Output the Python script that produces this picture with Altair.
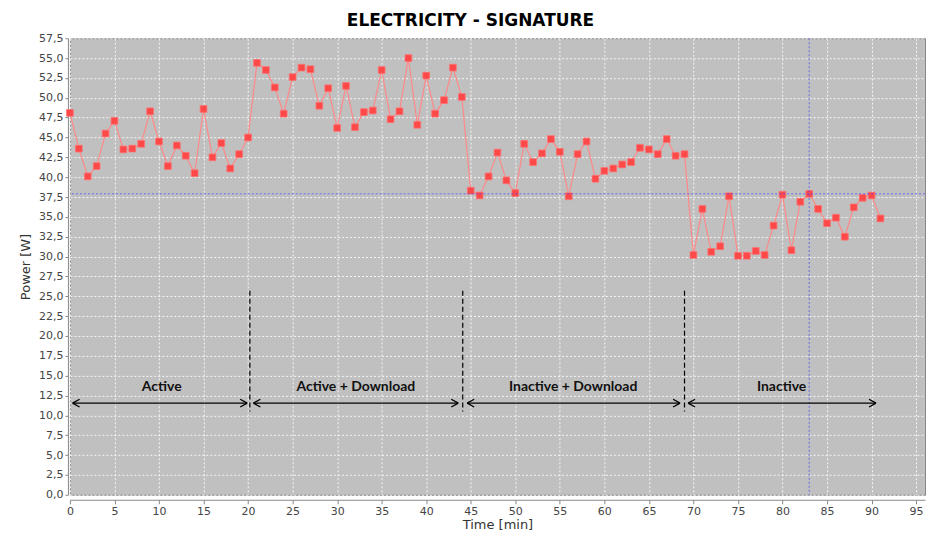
import altair as alt
import pandas as pd

minutes = list(range(92))
power = [48.1, 43.6, 40.1, 41.4, 45.5, 47.1, 43.5, 43.6, 44.2, 48.3,
         44.5, 41.4, 44.0, 42.7, 40.5, 48.6, 42.5, 44.3, 41.1, 42.9,
         45.0, 54.4, 53.5, 51.3, 48.0, 52.6, 53.8, 53.6, 49.0, 51.2,
         46.2, 51.5, 46.3, 48.2, 48.4, 53.5, 47.3, 48.3, 55.0, 46.6,
         52.8, 48.0, 49.7, 53.8, 50.1, 38.3, 37.7, 40.1, 43.1, 39.6,
         38.0, 44.2, 41.9, 43.0, 44.8, 43.2, 37.6, 42.9, 44.5, 39.8,
         40.8, 41.1, 41.6, 41.9, 43.7, 43.5, 42.9, 44.8, 42.7, 42.9,
         30.2, 36.0, 30.6, 31.3, 37.6, 30.1, 30.1, 30.7, 30.2, 33.9,
         37.8, 30.8, 36.9, 37.9, 36.0, 34.2, 34.9, 32.5, 36.2, 37.4,
         37.7, 34.8]

crosshair_x = [83]
crosshair_y = [37.9]

phase_names = ["Active", "Active + Download", "Inactive + Download", "Inactive"]
phase_label_x = [10.3, 32.1, 56.5, 79.9]
phase_start = [0.3, 20.6, 44.6, 69.4]
phase_end = [19.9, 43.6, 68.5, 90.5]
boundaries = [20.2, 44.1, 69.0]
boundary_top = 25.7
boundary_bottom = 10.5
arrow_y = 11.54
label_y = 13.55

x_ticks = list(range(0, 96, 5))
y_ticks = [i * 2.5 for i in range(24)]

df = pd.DataFrame({"t": minutes, "p": power})
phases = pd.DataFrame({
    "name": phase_names, "lx": phase_label_x, "s": phase_start, "e": phase_end,
    "ay": [arrow_y] * 4, "ly": [label_y] * 4,
})
bnd = pd.DataFrame({"b": boundaries, "top": [boundary_top] * 3, "bot": [boundary_bottom] * 3})
ch_x = pd.DataFrame({"x": crosshair_x})
ch_y = pd.DataFrame({"y": crosshair_y})

xscale = alt.Scale(domain=[0, 96], nice=False, zero=False)
yscale = alt.Scale(domain=[0, 57.5], nice=False, zero=False)

xaxis = alt.Axis(values=x_ticks, format="d", title="Time [min]", labelColor="#444444",
                 tickColor="#888888", domainColor="#888888", offset=5, tickSize=4,
                 labelFontSize=11, titleFontSize=13, titleFontWeight="normal",
                 titleColor="#333333", titlePadding=2, labelFont="DejaVu Sans",
                 titleFont="DejaVu Sans", gridColor="#ffffff", gridDash=[2, 2],
                 gridOpacity=0.85, labelPadding=2, labelOverlap=False, labelFlush=False)
yaxis = alt.Axis(values=y_ticks, labelExpr="replace(format(datum.value, '.1f'), '.', ',')",
                 title="Power [W]", labelColor="#444444", tickColor="#888888",
                 domainColor="#888888", offset=2, tickSize=3, labelFontSize=11,
                 titleFontSize=13, titleFontWeight="normal", titleColor="#333333",
                 titlePadding=6, labelFont="DejaVu Sans", titleFont="DejaVu Sans",
                 gridColor="#ffffff", gridDash=[2, 2], gridOpacity=0.85, labelPadding=2,
                 labelOverlap=False, labelFlush=False)


def X(field):
    return alt.X(field, type="quantitative", scale=xscale, axis=xaxis)


def Y(field):
    return alt.Y(field, type="quantitative", scale=yscale, axis=yaxis)


base = alt.Chart(df)
line = base.mark_line(color="#ff8888", strokeWidth=1.2).encode(x=X("t"), y=Y("p"))
pts = base.mark_point(shape="square", filled=True, size=45, color="#ff4848",
                      opacity=1, stroke="#ff7070", strokeWidth=0.8).encode(x=X("t"), y=Y("p"))

vline = alt.Chart(ch_x).mark_rule(color="#4444ff", strokeDash=[2, 2], strokeWidth=1,
                                  opacity=0.7).encode(x=X("x"))
hline = alt.Chart(ch_y).mark_rule(color="#4444ff", strokeDash=[2, 2], strokeWidth=1,
                                  opacity=0.7).encode(y=Y("y"))

brules = alt.Chart(bnd).mark_rule(color="#000000", strokeDash=[5, 3], strokeWidth=1.2).encode(
    x=X("b"), y=Y("top"), y2="bot:Q")

shafts = alt.Chart(phases).mark_rule(color="#000000", strokeWidth=1.2).encode(
    x=X("s"), x2="e:Q", y=Y("ay"))

left_heads = alt.Chart(phases).mark_point(
    shape="M0,0L1,-0.55M0,0L1,0.55", filled=False, size=196, color="#000000",
    strokeWidth=1.3, opacity=1).encode(x=X("s"), y=Y("ay"))
right_heads = alt.Chart(phases).mark_point(
    shape="M0,0L-1,-0.55M0,0L-1,0.55", filled=False, size=196, color="#000000",
    strokeWidth=1.3, opacity=1).encode(x=X("e"), y=Y("ay"))

labels = alt.Chart(phases).mark_text(font="Lato", fontWeight="bold", fontSize=14,
                                     color="#111111", baseline="middle").encode(
    x=X("lx"), y=Y("ly"), text="name:N")

chart = alt.layer(line, pts, hline, vline, brules, shafts, left_heads, right_heads, labels).properties(
    width=856, height=457,
    background="#ffffff",
    title=alt.TitleParams("ELECTRICITY - SIGNATURE", font="DejaVu Sans", fontSize=17,
                          fontWeight="bold", color="#000000", dx=-27, offset=2,
                          anchor="middle"),
    autosize=alt.AutoSizeParams(type="none"),
    padding={"left": 62, "top": 30, "right": 3, "bottom": 40},
).configure_view(fill="#c0c0c0", stroke="#888888", strokeWidth=1)

chart.save("out.html", embed_options={"renderer": "svg", "actions": False})
